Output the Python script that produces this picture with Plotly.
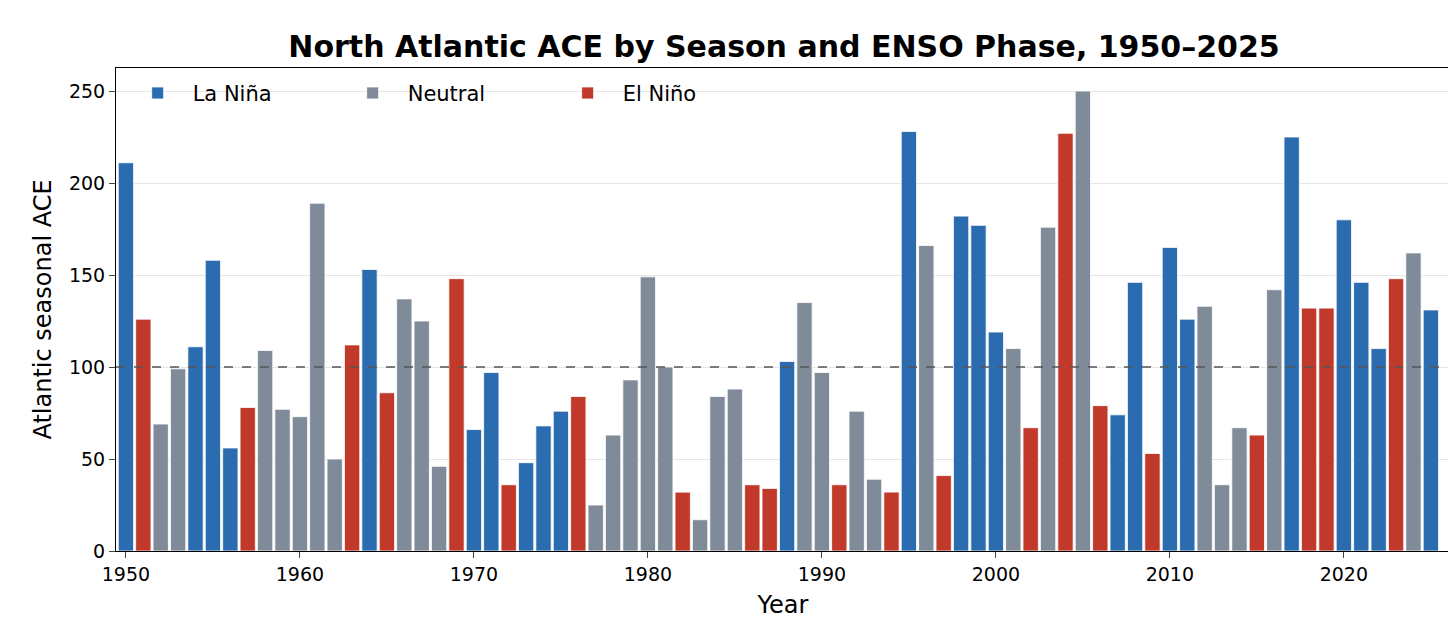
import plotly.graph_objects as go

years = list(range(1950, 2026))
ace = [211, 126, 69, 99, 111, 158, 56, 78, 109, 77,
       73, 189, 50, 112, 153, 86, 137, 125, 46, 148,
       66, 97, 36, 48, 68, 76, 84, 25, 63, 93,
       149, 100, 32, 17, 84, 88, 36, 34, 103, 135,
       97, 36, 76, 39, 32, 228, 166, 41, 182, 177,
       119, 110, 67, 176, 227, 250, 79, 74, 146, 53,
       165, 126, 133, 36, 67, 63, 142, 225, 132, 132,
       180, 146, 110, 148, 162, 131]
phase = list("LENNLLLENNNNNELENNNELLELLLENNNNNENNNEELNNENNELNELLLNENENELLELLNNNENLEELLLENL")

phases = [("L", "La Niña", "#2b6cb0"), ("N", "Neutral", "#7f8b99"), ("E", "El Niño", "#c0392b")]

fig = go.Figure()
for code, name, color in phases:
    xs = [y for y, p in zip(years, phase) if p == code]
    vs = [v for v, p in zip(ace, phase) if p == code]
    fig.add_trace(go.Bar(x=xs, y=vs, name=name, width=0.88,
                         marker=dict(color=color, line=dict(color="white", width=0.8))))

# long-term reference line
fig.add_hline(y=100, line=dict(color="#555555", width=1.5, dash="dash"))

fig.update_layout(
    width=1456, height=628,
    margin=dict(l=108, r=14, t=60, b=85, autoexpand=False),
    plot_bgcolor="white", paper_bgcolor="white",
    font=dict(family="DejaVu Sans", size=19, color="black"),
    title=dict(text="<b>North Atlantic ACE by Season and ENSO Phase, 1950–2025</b>",
               xref="container", x=0.533, xanchor="center", y=0.955, font=dict(size=30)),
    barmode="overlay",
    legend=dict(orientation="h", x=0.005, y=0.99, xanchor="left", yanchor="top",
                font=dict(size=21), bgcolor="rgba(255,255,255,0)", itemwidth=60,
                entrywidthmode="pixels", entrywidth=140),
    xaxis=dict(title=dict(text="Year", font=dict(size=24), standoff=12), range=[1949.43, 2026.1],
               tickvals=[1950, 1960, 1970, 1980, 1990, 2000, 2010, 2020],
               ticks="outside", ticklen=6, showline=True, linecolor="black", mirror=True,
               showgrid=False, tickfont=dict(size=19), automargin=False),
    yaxis=dict(title=dict(text="Atlantic seasonal ACE", font=dict(size=24), standoff=10),
               range=[0, 262.5], tickvals=[0, 50, 100, 150, 200, 250],
               ticks="outside", ticklen=6, showline=True, linecolor="black", mirror=True,
               gridcolor="#e6e6e6", tickfont=dict(size=19), zeroline=False, automargin=False),
)

fig.write_html("out.html")
